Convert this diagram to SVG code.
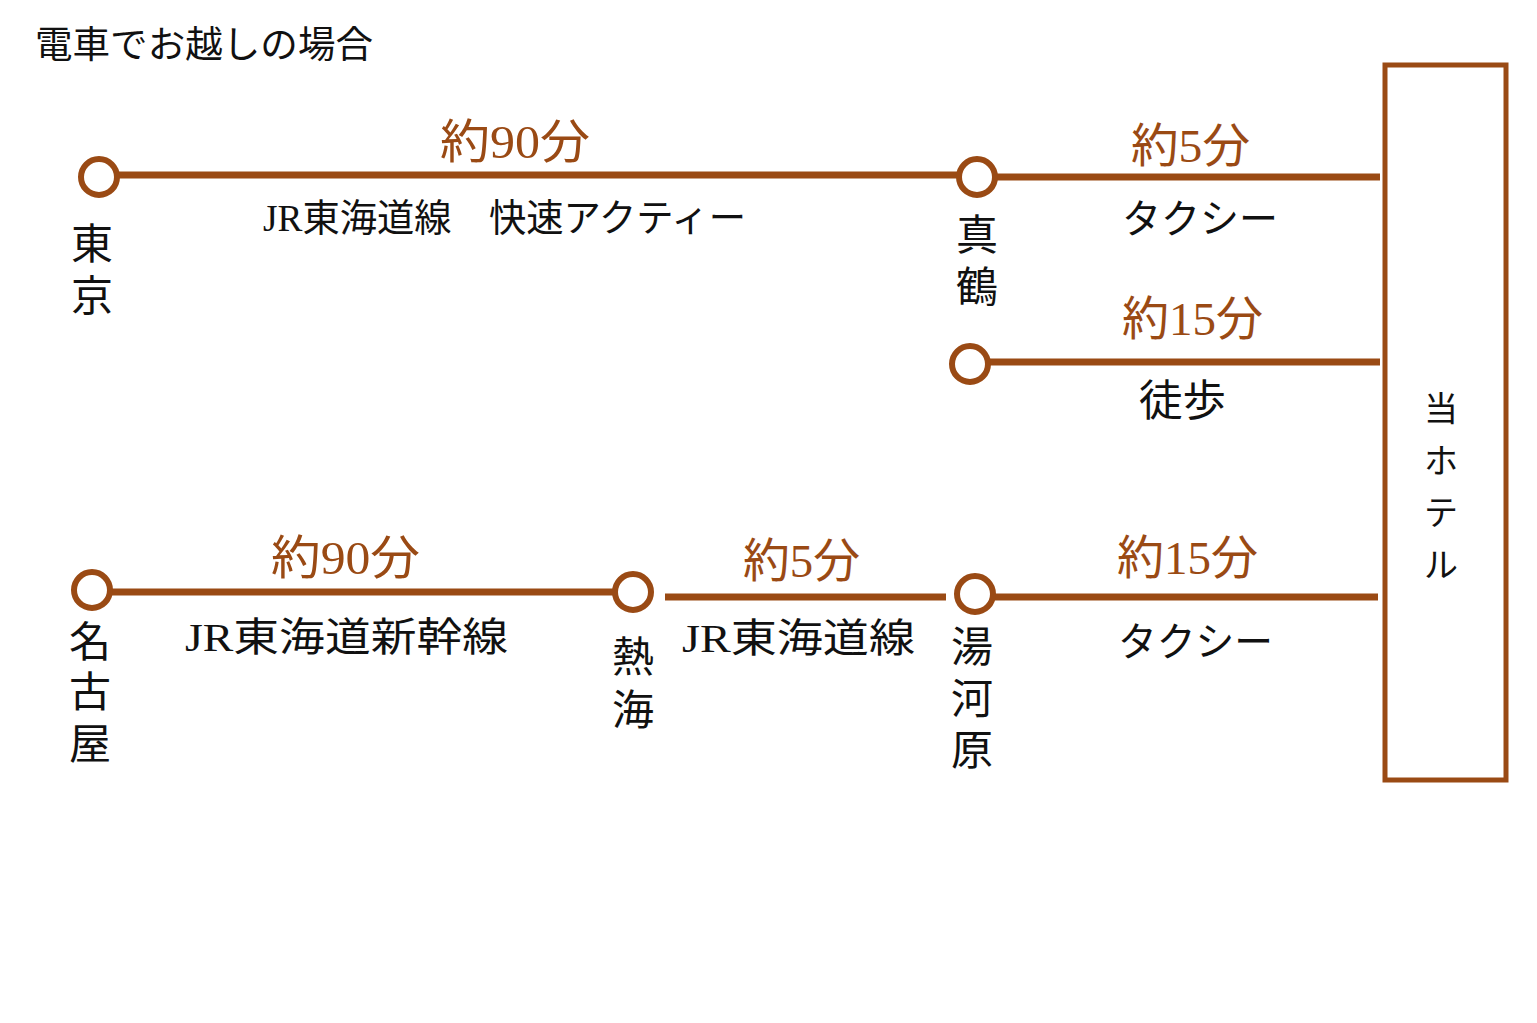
<svg xmlns="http://www.w3.org/2000/svg" width="1537" height="1023" viewBox="0 0 1537 1023">
<style>
.t{font-family:"Liberation Serif","Noto Sans CJK JP",serif;fill:#111}
.m{font-family:"Liberation Serif","Noto Sans CJK JP",serif;fill:#9a4a14;font-size:47px}
.st{font-size:42px;text-anchor:middle}
.ln{stroke:#9a4a14;stroke-width:7;fill:none}
.stn{stroke:#9a4a14;stroke-width:6;fill:#fff}
</style>
<rect width="1537" height="1023" fill="#fff"/>
<text class="t" x="35" y="58" font-size="37" textLength="338" lengthAdjust="spacingAndGlyphs">電車でお越しの場合</text>
<g id="connectors">
<line class="ln" x1="117" y1="175" x2="957" y2="175"/>
<line class="ln" x1="996" y1="177" x2="1380" y2="177"/>
<line class="ln" x1="989" y1="362" x2="1380" y2="362"/>
<line class="ln" x1="111" y1="592" x2="614" y2="592"/>
<line class="ln" x1="665" y1="597" x2="946" y2="597"/>
<line class="ln" x1="994" y1="597" x2="1378" y2="597"/>
<text class="m" x="440" y="158" textLength="150" lengthAdjust="spacingAndGlyphs">約90分</text>
<text class="t" x="263" y="231" font-size="38" textLength="483" lengthAdjust="spacingAndGlyphs">JR東海道線　快速アクティー</text>
<text class="m" x="1131" y="162" textLength="119" lengthAdjust="spacingAndGlyphs">約5分</text>
<text class="t" x="1122" y="233" font-size="40" textLength="156" lengthAdjust="spacingAndGlyphs">タクシー</text>
<text class="m" x="1122" y="335" textLength="141" lengthAdjust="spacingAndGlyphs">約15分</text>
<text class="t" x="1139" y="416" font-size="43" textLength="87" lengthAdjust="spacingAndGlyphs">徒歩</text>
<text class="m" x="271" y="574" textLength="149" lengthAdjust="spacingAndGlyphs">約90分</text>
<text class="t" x="185" y="651" font-size="40" textLength="323" lengthAdjust="spacingAndGlyphs">JR東海道新幹線</text>
<text class="m" x="743" y="577" textLength="117" lengthAdjust="spacingAndGlyphs">約5分</text>
<text class="t" x="682" y="652" font-size="40" textLength="233" lengthAdjust="spacingAndGlyphs">JR東海道線</text>
<text class="m" x="1117" y="574" textLength="141" lengthAdjust="spacingAndGlyphs">約15分</text>
<text class="t" x="1118" y="656" font-size="40" textLength="155" lengthAdjust="spacingAndGlyphs">タクシー</text>
</g>
<g id="tokyo">
<circle class="stn" cx="99" cy="177" r="18"/>
<text class="t st" x="92"><tspan x="92" y="259">東</tspan><tspan x="92" y="311">京</tspan></text>
</g>
<g id="manazuru">
<circle class="stn" cx="977" cy="177" r="18"/>
<text class="t st" x="977"><tspan x="977" y="250">真</tspan><tspan x="977" y="302">鶴</tspan></text>
</g>
<g id="manazuru-walk">
<circle class="stn" cx="970" cy="364" r="18"/>
</g>
<g id="nagoya">
<circle class="stn" cx="92" cy="590" r="18"/>
<text class="t st" x="90"><tspan x="90" y="657">名</tspan><tspan x="90" y="707">古</tspan><tspan x="90" y="759">屋</tspan></text>
</g>
<g id="atami">
<circle class="stn" cx="633" cy="592" r="18"/>
<text class="t st" x="633"><tspan x="633" y="672">熱</tspan><tspan x="633" y="725">海</tspan></text>
</g>
<g id="yugawara">
<circle class="stn" cx="975" cy="594" r="18"/>
<text class="t st" x="972"><tspan x="972" y="662">湯</tspan><tspan x="972" y="714">河</tspan><tspan x="972" y="765">原</tspan></text>
</g>
<g id="hotel">
<rect x="1385" y="65" width="121" height="715" fill="#fff" stroke="#9a4a14" stroke-width="5"/>
<text class="t" font-size="34" text-anchor="middle"><tspan x="1441" y="421">当</tspan><tspan x="1441" y="473">ホ</tspan><tspan x="1441" y="525">テ</tspan><tspan x="1441" y="577">ル</tspan></text>
</g>
</svg>
